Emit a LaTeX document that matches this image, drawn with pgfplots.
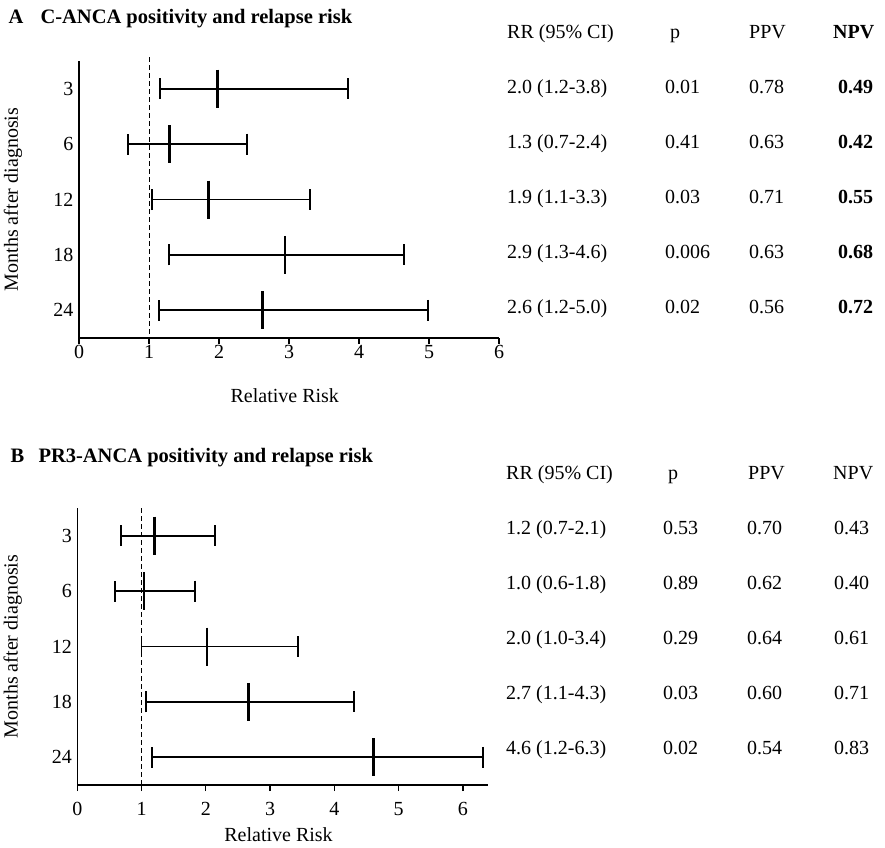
\documentclass[border=0pt]{standalone}
\usepackage{fontspec}
\setmainfont{Liberation Serif}
\usepackage{pgfplots}
\pgfplotsset{compat=1.18}
\usepackage{pgfplotstable}

\pgfplotstableread{
row rr lo hi
1 1.98 1.16 3.84
2 1.29 0.70 2.40
3 1.85 1.04 3.30
4 2.94 1.29 4.64
5 2.62 1.14 4.99
}\dataA
\pgfplotstableread{
row rr lo hi
1 1.20 0.675 2.14
2 1.04 0.586 1.83
3 2.02 1.00 3.44
4 2.66 1.07 4.31
5 4.61 1.16 6.31
}\dataB

\newcommand\fs{\fontsize{20}{24}\selectfont}
\newcommand\ft{\fontsize{20.5}{24}\selectfont\bfseries}

\pgfplotsset{forest/.style={
  scale only axis, height=277pt, ymin=0.5, ymax=5.5, y dir=reverse,
  axis x line*=bottom, axis y line*=left,
  axis line style={line width=1.5pt, black},
  ytick={1,2,3,4,5}, yticklabels={3,6,12,18,24}, ytick style={draw=none},
  yticklabel style={xshift=4pt},
  tick align=outside, major tick length=6pt,
  xtick style={line width=1.3pt, black},
  tick label style={font=\fs}, label style={font=\fs},
  /pgf/number format/assume math mode=true,
  clip=false, xtick={0,1,2,3,4,5,6},
  xlabel={Relative Risk}, ylabel={Months after diagnosis},
  ylabel style={at={(axis description cs:-0.157,0.5)}, anchor=center},
}}
\pgfplotsset{ci/.style={black, line width=1.8pt, only marks, mark=|, mark size=19pt,
  mark options={line width=2.5pt},
  error bars/.cd, x dir=both, x explicit, error mark=|,
  error mark options={line width=1.8pt, mark size=10.5pt},
  error bar style={line width=1.8pt}}}

\begin{document}
\begin{tikzpicture}
\path[use as bounding box] (0,0) rectangle (885pt,-847pt);

% Panel A
\node[anchor=base west, font=\ft] at (5pt,-23pt) {A};
\node[anchor=base west, font=\ft] at (37pt,-23pt) {C-ANCA positivity and relapse risk};
\begin{axis}[forest, at={(79pt,-338pt)}, anchor=south west, width=420pt, xmin=0, xmax=6,
  xticklabel style={anchor=base, yshift=-14pt},
  xlabel style={at={(axis description cs:0.49,0)}, anchor=base, yshift=-64pt}]
\addplot[black, dash pattern=on 5pt off 3pt, line width=1pt] coordinates {(1,0.43) (1,5.5)};
\addplot[ci] table[x=rr, y=row, x error plus expr=\thisrow{hi}-\thisrow{rr}, x error minus expr=\thisrow{rr}-\thisrow{lo}] {\dataA};
\end{axis}

\begin{scope}[every node/.style={anchor=base west, font=\fs, inner sep=0pt}]
\node at (507pt,-38pt) {RR (95\% CI)};
\node at (670pt,-38pt) {p};
\node at (749pt,-38pt) {PPV};
\node[font=\fs\bfseries] at (833pt,-38pt) {NPV};
\node at (507pt,-93pt) {2.0 (1.2-3.8)};
\node at (507pt,-148pt) {1.3 (0.7-2.4)};
\node at (507pt,-203pt) {1.9 (1.1-3.3)};
\node at (507pt,-258pt) {2.9 (1.3-4.6)};
\node at (507pt,-313pt) {2.6 (1.2-5.0)};
\node at (665pt,-93pt) {0.01};
\node at (665pt,-148pt) {0.41};
\node at (665pt,-203pt) {0.03};
\node at (665pt,-258pt) {0.006};
\node at (665pt,-313pt) {0.02};
\node at (749pt,-93pt) {0.78};
\node at (749pt,-148pt) {0.63};
\node at (749pt,-203pt) {0.71};
\node at (749pt,-258pt) {0.63};
\node at (749pt,-313pt) {0.56};
\node[font=\fs\bfseries] at (838pt,-93pt) {0.49};
\node[font=\fs\bfseries] at (838pt,-148pt) {0.42};
\node[font=\fs\bfseries] at (838pt,-203pt) {0.55};
\node[font=\fs\bfseries] at (838pt,-258pt) {0.68};
\node[font=\fs\bfseries] at (838pt,-313pt) {0.72};
\end{scope}

% Panel B
\node[anchor=base west, font=\ft] at (7pt,-462pt) {B};
\node[anchor=base west, font=\ft] at (35pt,-462pt) {PR3-ANCA positivity and relapse risk};
\begin{axis}[forest, at={(77.3pt,-785pt)}, anchor=south west, width=410.7pt, xmin=0, xmax=6.39,
  xticklabel style={anchor=base, yshift=-24pt},
  xlabel style={at={(axis description cs:0.49,0)}, anchor=base, yshift=-56pt}]
\addplot[black, dash pattern=on 5pt off 3pt, line width=1pt] coordinates {(1,0.5) (1,5.5)};
\addplot[ci] table[x=rr, y=row, x error plus expr=\thisrow{hi}-\thisrow{rr}, x error minus expr=\thisrow{rr}-\thisrow{lo}] {\dataB};
\end{axis}

\begin{scope}[every node/.style={anchor=base west, font=\fs, inner sep=0pt}]
\node at (506pt,-479pt) {RR (95\% CI)};
\node at (668pt,-479pt) {p};
\node at (748pt,-479pt) {PPV};
\node at (833pt,-479pt) {NPV};
\node at (506pt,-534pt) {1.2 (0.7-2.1)};
\node at (506pt,-589pt) {1.0 (0.6-1.8)};
\node at (506pt,-644pt) {2.0 (1.0-3.4)};
\node at (506pt,-699pt) {2.7 (1.1-4.3)};
\node at (506pt,-754pt) {4.6 (1.2-6.3)};
\node at (663pt,-534pt) {0.53};
\node at (663pt,-589pt) {0.89};
\node at (663pt,-644pt) {0.29};
\node at (663pt,-699pt) {0.03};
\node at (663pt,-754pt) {0.02};
\node at (747pt,-534pt) {0.70};
\node at (747pt,-589pt) {0.62};
\node at (747pt,-644pt) {0.64};
\node at (747pt,-699pt) {0.60};
\node at (747pt,-754pt) {0.54};
\node at (834pt,-534pt) {0.43};
\node at (834pt,-589pt) {0.40};
\node at (834pt,-644pt) {0.61};
\node at (834pt,-699pt) {0.71};
\node at (834pt,-754pt) {0.83};
\end{scope}
\end{tikzpicture}
\end{document}
